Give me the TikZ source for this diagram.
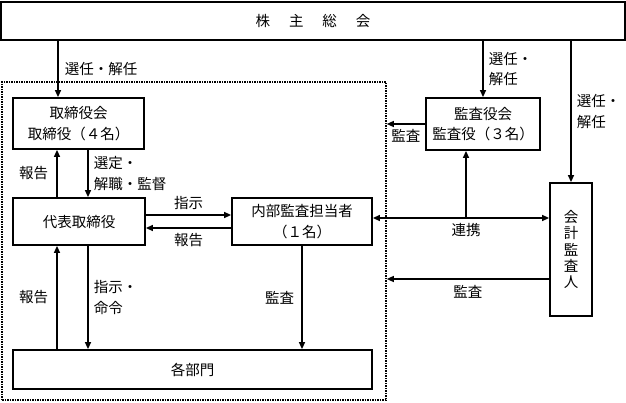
\documentclass[tikz,border=0pt]{standalone}
\usepackage{fontspec}
\newfontfamily\jpfont{Noto Sans CJK JP}
\usetikzlibrary{arrows.meta}

\begin{document}
\begin{tikzpicture}[x=1pt,y=-1pt,
        every node/.style={font=\jpfont\fontsize{14.5}{20.5}\selectfont},
        box/.style={draw,line width=1.8pt,inner sep=0pt,align=center},
        arr/.style={line width=1.3pt,-{Triangle[length=7pt,width=6pt]}}]
    \useasboundingbox (0,0) rectangle (626,402);
    % group of the company (dotted)
    \node[draw,line width=1.6pt,dash pattern=on 1.5pt off 1pt,minimum width=384pt,minimum height=318pt] (grp) at (194,241) {};
    \node[box,minimum width=624pt,minimum height=38pt] (soukai) at (313,21) {株\hspace{1.3em}主\hspace{1.3em}総\hspace{1.3em}会};
    \node[box,minimum width=131pt,minimum height=51pt] (torikai) at (78.5,123.5) {取締役会\\取締役（４名）};
    \node[box,minimum width=132pt,minimum height=47pt] (daihyo) at (79,221.5) {代表取締役};
    \node[box,minimum width=140pt,minimum height=47pt] (naibu) at (302,221.5) {内部監査担当者\\（１名）};
    \node[box,minimum width=359pt,minimum height=39pt] (kakubu) at (192.5,369.5) {各部門};
    \node[box,minimum width=114pt,minimum height=52pt] (kansa) at (483,124) {監査役会\\監査役（３名）};
    \node[box,minimum width=42pt,minimum height=133pt,font=\jpfont\fontsize{14.5}{16.3}\selectfont] (kaikei) at (571,249.5) {会\\計\\監\\査\\人};
    \coordinate (renkei) at (466,218);

    % from the shareholders
    \draw[arr] ([xshift=-20.5pt]torikai.north |- soukai.south) -- ([xshift=-20.5pt]torikai.north)
        node[midway,right=3pt] (l1) {選任・解任};
    \draw[arr] (kansa.north |- soukai.south) -- (kansa.north)
        node[midway,right=2pt,align=left] (l2) {選任・\\解任};
    \draw[arr] (kaikei.north |- soukai.south) -- (kaikei.north)
        node[midway,right=2pt,align=left] (l3) {選任・\\解任};
    \draw[arr] (kansa.west) -- (kansa.west -| grp.east)
        node[midway,below=1pt] (l4) {監査};

    % board and representative
    \draw[arr] ([xshift=-22pt]daihyo.north) -- ([xshift=-22pt]daihyo.north |- torikai.south)
        node[midway,left=5pt] (l5) {報告};
    \draw[arr] ([xshift=9pt]daihyo.north |- torikai.south) -- ([xshift=9pt]daihyo.north)
        node[midway,right=2pt,align=left] (l6) {選定・\\解職・監督};
    \draw[arr] ([yshift=6.5pt]daihyo.east) -- ([yshift=6.5pt]daihyo.east -| naibu.west)
        node[midway,above=1pt] (l7) {指示};
    \draw[arr] ([yshift=-6.5pt]naibu.west) -- ([yshift=-6.5pt]naibu.west -| daihyo.east)
        node[midway,below=1pt] (l8) {報告};

    % cooperation
    \draw[arr] (renkei) -- (renkei -| naibu.east);
    \draw[arr] (renkei) -- (renkei -| kaikei.west);
    \draw[arr] (renkei) -- (renkei |- kansa.south);
    \node[below=2pt] (l9) at (renkei) {連携};
    \draw[arr] ([yshift=-29.5pt]kaikei.west) -- ([yshift=-29.5pt]kaikei.west -| grp.east)
        node[midway,below=2pt] (l10) {監査};

    % departments
    \draw[arr] ([xshift=-22pt]daihyo.south |- kakubu.north) -- ([xshift=-22pt]daihyo.south)
        node[midway,left=5pt] (l11) {報告};
    \draw[arr] ([xshift=9pt]daihyo.south) -- ([xshift=9pt]daihyo.south |- kakubu.north)
        node[midway,right=2pt,align=left] (l12) {指示・\\命令};
    \draw[arr] (naibu.south) -- (naibu.south |- kakubu.north)
        node[midway,left=4pt] (l13) {監査};
\end{tikzpicture}
\end{document}
